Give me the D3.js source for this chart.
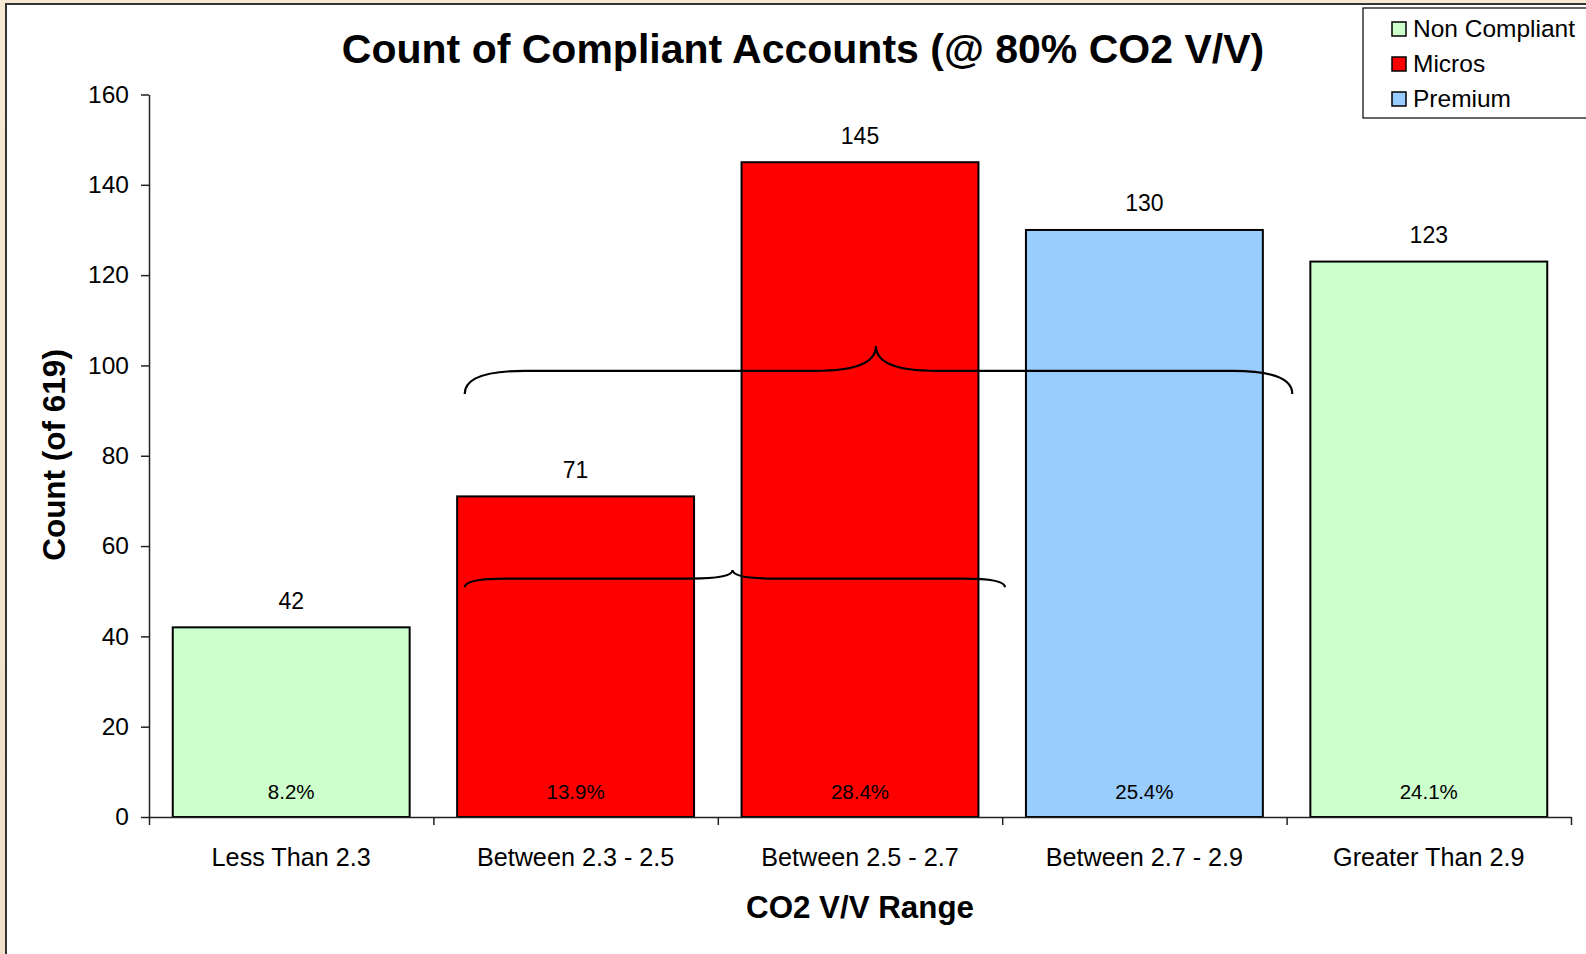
<!DOCTYPE html>
<html><head><meta charset="utf-8">
<script src="https://cdn.jsdelivr.net/npm/d3@7"></script>
<style>
html,body{margin:0;padding:0;background:#f1e2cf;}
svg{display:block;font-family:"Liberation Sans",Arial,sans-serif;}
</style></head>
<body>
<svg id="chart" width="1586" height="954"></svg>
<script>
// ---- data ----
const categories = ["Less Than 2.3", "Between 2.3 - 2.5", "Between 2.5 - 2.7", "Between 2.7 - 2.9", "Greater Than 2.9"];
const counts = [42, 71, 145, 130, 123];
const percentLabels = ["8.2%", "13.9%", "28.4%", "25.4%", "24.1%"];
const groups = ["Non Compliant", "Micros", "Micros", "Premium", "Non Compliant"];
const seriesNames = ["Non Compliant", "Micros", "Premium"];
const seriesColors = ["#ccffcc", "#ff0000", "#99ccff"];
const yTicks = [0, 20, 40, 60, 80, 100, 120, 140, 160];
const titleText = "Count of Compliant Accounts (@ 80% CO2 V/V)";
const xTitle = "CO2 V/V Range";
const yTitle = "Count (of 619)";
// brace annotations in data units (category index along x, count along y)
const braces = [
  {from: 1.11, to: 4.02, tip: 2.556, end: 93.7, line: 98.8, peak: 104.3, curl: 60},
  {from: 1.11, to: 3.01, tip: 2.052, end: 50.9, line: 52.8, peak: 54.7, curl: 42}
];

(function(){
// ---- layout ----
const svg = d3.select("#chart");
const pLeft = 149, pRight = 1571, pTop = 94.5, pBottom = 817;

// background frame
const bg = svg.append("defs").append("linearGradient").attr("id","bg").attr("x1",0).attr("y1",0).attr("x2",0).attr("y2",1);
bg.append("stop").attr("offset","0%").attr("stop-color","#f6ead2");
bg.append("stop").attr("offset","100%").attr("stop-color","#f0dfcb");
svg.append("rect").attr("width",1586).attr("height",954).attr("fill","url(#bg)");
svg.append("rect").attr("x",6).attr("y",4).attr("width",1600).attr("height",1000)
  .attr("fill","#fff").attr("stroke","#333").attr("stroke-width",2);

const x = d3.scaleBand().domain(categories).range([pLeft, pRight]).paddingInner(0.167).paddingOuter(0.0835);
const xi = d3.scaleLinear().domain([0, categories.length]).range([pLeft, pRight]);
const y = d3.scaleLinear().domain([0, 160]).range([pBottom, pTop]);
const color = d3.scaleOrdinal().domain(seriesNames).range(seriesColors);

// title
svg.append("text").attr("x", 803).attr("y", 63).attr("text-anchor","middle")
  .attr("font-size", 41).attr("font-weight","bold").attr("fill","#000").text(titleText);

// bars
svg.append("g").selectAll("rect").data(categories).join("rect")
  .attr("x", d => x(d)).attr("width", x.bandwidth())
  .attr("y", (d,i) => y(counts[i])).attr("height", (d,i) => y(0) - y(counts[i]))
  .attr("fill", (d,i) => color(groups[i])).attr("stroke","#000").attr("stroke-width",2);

// value labels
svg.append("g").selectAll("text").data(categories).join("text")
  .attr("x", d => x(d) + x.bandwidth()/2).attr("y", (d,i) => y(counts[i]) - 18.5)
  .attr("text-anchor","middle").attr("font-size",23).attr("fill","#000")
  .text((d,i) => counts[i]);

// percent labels
svg.append("g").selectAll("text").data(categories).join("text")
  .attr("x", d => x(d) + x.bandwidth()/2).attr("y", 799)
  .attr("text-anchor","middle").attr("font-size",20.5).attr("fill","#000")
  .text((d,i) => percentLabels[i]);

// y axis
const yAxis = svg.append("g").attr("transform",`translate(${pLeft},0)`)
  .call(d3.axisLeft(y).tickValues(yTicks).tickSize(8).tickSizeOuter(0).tickPadding(12));
yAxis.selectAll("path,line").attr("stroke","#222").attr("stroke-width",1.5);
yAxis.selectAll("text").attr("font-size",24.5).attr("fill","#000").attr("font-family","Liberation Sans, Arial, sans-serif");

// x axis (ticks at category boundaries)
const xAxis = svg.append("g").attr("transform",`translate(0,${pBottom})`)
  .call(d3.axisBottom(xi).tickValues(d3.range(0, categories.length + 1)).tickSize(8).tickSizeOuter(0).tickFormat(""));
xAxis.selectAll("path,line").attr("stroke","#222").attr("stroke-width",1.5);

// category labels
svg.append("g").selectAll("text").data(categories).join("text")
  .attr("x", d => x(d) + x.bandwidth()/2).attr("y", 866)
  .attr("text-anchor","middle").attr("font-size",25.2).attr("fill","#000").text(d => d);

// axis titles
svg.append("text").attr("x", 860).attr("y", 918).attr("text-anchor","middle")
  .attr("font-size",31.3).attr("font-weight","bold").attr("fill","#000").text(xTitle);
svg.append("text").attr("transform","translate(65,455) rotate(-90)").attr("text-anchor","middle")
  .attr("font-size",31.5).attr("font-weight","bold").attr("fill","#000").text(yTitle);

// braces
function bracePath(b) {
  const x0 = xi(b.from), x1 = xi(b.to), xt = xi(b.tip);
  const ye = y(b.end), yl = y(b.line), yt = y(b.peak), r = b.curl;
  return `M${x0},${ye} Q${x0},${yl} ${x0+r},${yl} L${xt-r},${yl} Q${xt},${yl} ${xt},${yt} ` +
         `Q${xt},${yl} ${xt+r},${yl} L${x1-r},${yl} Q${x1},${yl} ${x1},${ye}`;
}
svg.append("g").selectAll("path").data(braces).join("path")
  .attr("d", bracePath).attr("fill","none").attr("stroke","#000").attr("stroke-width",2.2);

// legend
const lg = svg.append("g");
lg.append("rect").attr("x",1363).attr("y",8).attr("width",260).attr("height",110)
  .attr("fill","#fff").attr("stroke","#000").attr("stroke-width",1.2);
const rowY = d3.scalePoint().domain(seriesNames).range([37, 107]);
const items = lg.selectAll("g").data(seriesNames).join("g")
  .attr("transform", d => `translate(1392,${rowY(d)})`);
items.append("rect").attr("x",0).attr("y",-15).attr("width",14).attr("height",14)
  .attr("fill", d => color(d)).attr("stroke","#000").attr("stroke-width",1.5);
items.append("text").attr("x",21).attr("y",0).attr("font-size",24.5).attr("fill","#000").text(d => d);
})();
</script>
</body></html>
